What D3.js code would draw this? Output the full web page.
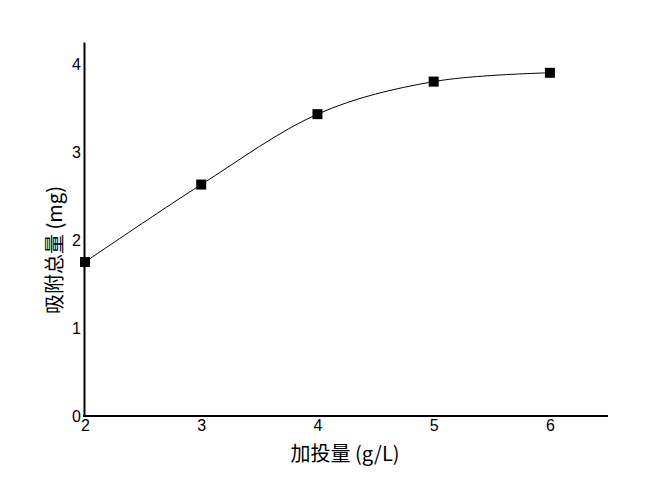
<!DOCTYPE html>
<html><head><meta charset="utf-8">
<script src="https://cdn.jsdelivr.net/npm/d3@7"></script>
<style>body{margin:0;background:#fff;}svg{display:block;}</style>
</head><body>
<script>
const dosage = [2, 3, 4, 5, 6];
const adsorption = [1.75, 2.63, 3.43, 3.80, 3.90];
const xTicks = [2, 3, 4, 5, 6];
const yTicks = [0, 1, 2, 3, 4];
const xTitle = "加投量 (g/L)";
const yTitle = "吸附总量 (mg)";

const W = 655, H = 487;
const svg = d3.select("body").append("svg").attr("width", W).attr("height", H);
const x = d3.scaleLinear().domain([2, 6.5]).range([85, 608]);
const y = d3.scaleLinear().domain([0, 4.25]).range([416, 42]);

const font = "'Liberation Sans', Arial, sans-serif";

// axes
const xAxis = svg.append("g").attr("transform", `translate(0,${y(0)})`)
  .call(d3.axisBottom(x).tickValues(xTicks).tickSize(0).tickPadding(4).tickFormat(d3.format("d")));
const yAxis = svg.append("g").attr("transform", `translate(${x(2)-1},0)`)
  .call(d3.axisLeft(y).tickValues(yTicks).tickSize(0).tickPadding(3).tickFormat(d3.format("d")));
[xAxis, yAxis].forEach(g => {
  g.select(".domain").attr("stroke", "#000").attr("stroke-width", 2);
  g.selectAll("text").attr("font-family", font).attr("font-size", 16).attr("fill", "#000");
});
xAxis.select(".domain").attr("d", `M${x(2)-2},0H${x(6.5)}`);

// line
const line = d3.line().x((d, i) => x(dosage[i])).y(d => y(d)).curve(d3.curveCardinal);
svg.append("path").datum(adsorption).attr("d", line)
  .attr("fill", "none").attr("stroke", "#000").attr("stroke-width", 1);

// markers
svg.selectAll("rect.pt").data(adsorption).enter().append("rect")
  .attr("class", "pt")
  .attr("x", (d, i) => x(dosage[i]) - 5).attr("y", d => y(d) - 5)
  .attr("width", 10).attr("height", 10).attr("fill", "#000");

// titles
svg.append("text").attr("x", 345).attr("y", 461).attr("text-anchor", "middle")
  .attr("font-family", "'Noto Sans CJK SC', 'Liberation Sans', sans-serif").attr("font-size", 20)
  .attr("fill", "#000").text(xTitle);
svg.append("text").attr("transform", `translate(62,250) rotate(-90)`).attr("text-anchor", "middle")
  .attr("font-family", "'Noto Sans CJK SC', 'Liberation Sans', sans-serif").attr("font-size", 20)
  .attr("fill", "#000").text(yTitle);
</script>
</body></html>
